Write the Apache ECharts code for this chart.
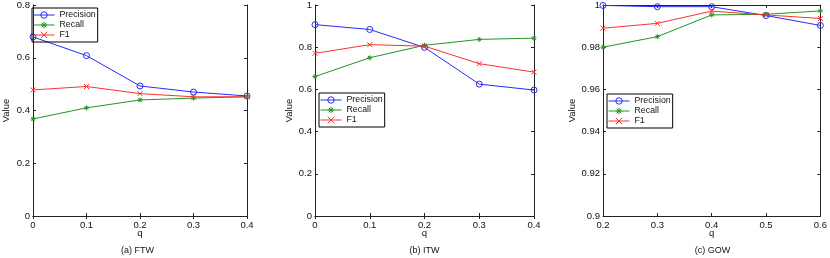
<!DOCTYPE html>
<html><head><meta charset="utf-8">
<script src="https://cdn.jsdelivr.net/npm/echarts@6/dist/echarts.min.js"></script>
<style>html,body{margin:0;padding:0;background:#fff}#c{width:830px;height:258px}</style>
</head><body><div id="c"></div>
<script>
const seriesNames = ['Precision', 'Recall', 'F1'];
const captions = ['(a) FTW', '(b) ITW', '(c) GOW'];

const ftwQ = ['0', '0.1', '0.2', '0.3', '0.4'];
const ftwPrecision = [0.679, 0.608, 0.493, 0.470, 0.455];
const ftwRecall = [0.368, 0.410, 0.440, 0.447, 0.452];
const ftwF1 = [0.478, 0.491, 0.464, 0.452, 0.452];

const itwQ = ['0', '0.1', '0.2', '0.3', '0.4'];
const itwPrecision = [0.907, 0.884, 0.799, 0.625, 0.597];
const itwRecall = [0.661, 0.750, 0.809, 0.837, 0.843];
const itwF1 = [0.771, 0.812, 0.805, 0.722, 0.682];

const gowQ = ['0.2', '0.3', '0.4', '0.5', '0.6'];
const gowPrecision = [0.9998, 0.9992, 0.9992, 0.9950, 0.9903];
const gowRecall = [0.9800, 0.9850, 0.9953, 0.9956, 0.9972];
const gowF1 = [0.9890, 0.9913, 0.9971, 0.9953, 0.9936];

const yRanges = [[0, 0.8, 0.2], [0, 1, 0.2], [0.9, 1, 0.02]];

const panels = [
  {q: ftwQ, data: [ftwPrecision, ftwRecall, ftwF1]},
  {q: itwQ, data: [itwPrecision, itwRecall, itwF1]},
  {q: gowQ, data: [gowPrecision, gowRecall, gowF1]}
];

const gridLefts = [28, 315, 603];
const gridWidth = 219;
const nameGaps = [22, 21, 26];
const legendPos = [[32, 8], [319, 93], [607, 94]];

const colors = ['#2a2aff', '#249424', '#ff3030'];
const symbols = [
  'path://M10,5A5,5,0,1,1,0,5A5,5,0,1,1,10,5Z',
  'path://M5,0L5,10M0,5L10,5M1.5,1.5L8.5,8.5M8.5,1.5L1.5,8.5',
  'path://M0,0L10,10M10,0L0,10'
];
const symbolSizes = [6, 5, 5];

const FONT = 'Liberation Sans';
const axisColor = '#222';

const grid = [], xAxis = [], yAxis = [], series = [], legend = [], title = [];
panels.forEach((p, i) => {
  grid.push({left: gridLefts[i], top: 5, width: gridWidth, height: 211});
  const common = {
    gridIndex: i,
    axisLine: {show: true, lineStyle: {color: axisColor, width: 1}},
    axisTick: {show: true, inside: true, length: 3, lineStyle: {color: axisColor}},
    splitLine: {show: false}
  };
  xAxis.push(Object.assign({}, common, {
    type: 'category', data: p.q, boundaryGap: false, position: 'bottom',
    axisLabel: {fontFamily: FONT, fontSize: 9.5, color: '#111', margin: 4},
    name: 'q', nameLocation: 'middle', nameGap: 12, nameMoveOverlap: false,
    nameTextStyle: {fontFamily: FONT, fontSize: 9.5, color: '#111'}
  }));
  xAxis.push(Object.assign({}, common, {
    type: 'category', data: p.q, boundaryGap: false, position: 'top',
    axisLabel: {show: false}
  }));
  const [mn, mx, iv] = yRanges[i];
  yAxis.push(Object.assign({}, common, {
    type: 'value', min: mn, max: mx, interval: iv, position: 'left',
    axisLabel: {fontFamily: FONT, fontSize: 9.5, color: '#111', margin: 3},
    name: 'Value', nameLocation: 'middle', nameGap: nameGaps[i], nameMoveOverlap: false,
    nameTextStyle: {fontFamily: FONT, fontSize: 9.5, color: '#111'}
  }));
  yAxis.push(Object.assign({}, common, {
    type: 'value', min: mn, max: mx, interval: iv, position: 'right',
    axisLabel: {show: false}
  }));
  p.data.forEach((vals, k) => {
    series.push({
      type: 'line', name: seriesNames[k],
      xAxisIndex: 2 * i, yAxisIndex: 2 * i,
      data: vals,
      symbol: symbols[k], symbolSize: symbolSizes[k], showAllSymbol: true,
      lineStyle: {color: colors[k], width: 1},
      itemStyle: {color: k === 0 ? 'rgba(255,255,255,0)' : colors[k], borderColor: colors[k], borderWidth: 1},
      emphasis: {disabled: true},
      animation: false
    });
  });
  legend.push({
    orient: 'vertical', left: legendPos[i][0], top: legendPos[i][1],
    data: seriesNames,
    borderColor: '#000', borderWidth: 1, borderRadius: 0,
    padding: [2, 2, 2, 1],
    itemWidth: 21, itemHeight: 8, itemGap: 0,
    selectedMode: false,
    textStyle: {fontFamily: FONT, fontSize: 8.8, color: '#111', lineHeight: 10},
    itemStyle: {borderWidth: 1},
    lineStyle: {width: 1}
  });
  title.push({
    text: captions[i], left: gridLefts[i] + gridWidth / 2, top: 246, textAlign: 'center',
    padding: 0,
    textStyle: {fontFamily: FONT, fontSize: 9, fontWeight: 'normal', color: '#111'}
  });
});

const chart = echarts.init(document.getElementById('c'), null, {renderer: 'canvas'});
chart.setOption({
  animation: false,
  backgroundColor: '#fff',
  title, grid, xAxis, yAxis, series, legend
});
</script>
</body></html>
